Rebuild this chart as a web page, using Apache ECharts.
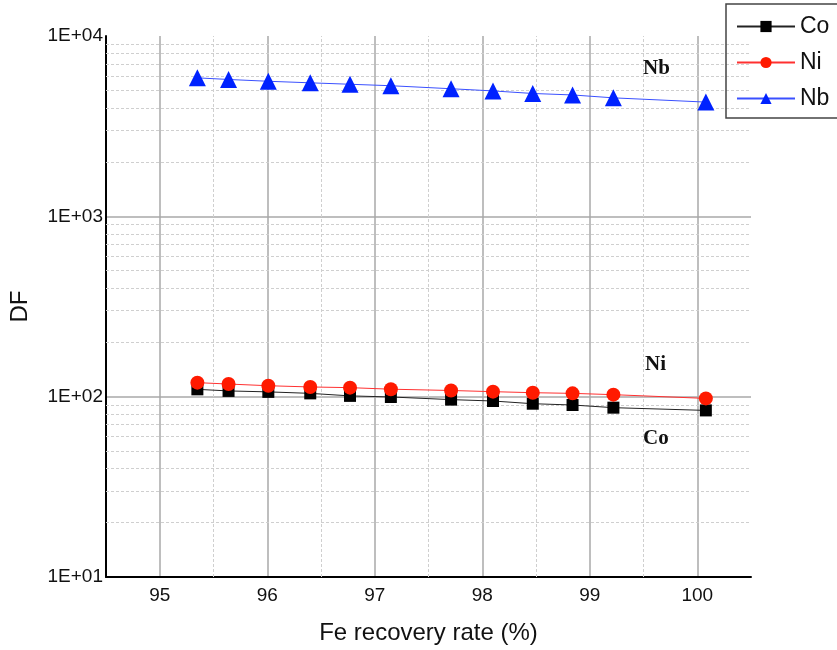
<!DOCTYPE html>
<html><head><meta charset="utf-8">
<script src="https://cdn.jsdelivr.net/npm/echarts@6/dist/echarts.min.js"></script>
<style>html,body{margin:0;padding:0;background:#fff}#c{width:837px;height:650px}</style>
</head><body><div id="c"></div>
<script>
const xValues = [95.35, 95.64, 96.01, 96.40, 96.77, 97.15, 97.71, 98.10, 98.47, 98.84, 99.22, 100.08];
const coValues = [109.8, 107.6, 106.3, 104.3, 101.0, 99.6, 96.3, 94.6, 91.4, 89.9, 86.9, 83.9];
const niValues = [119.6, 117.5, 115.0, 113.2, 112.2, 110.0, 108.2, 106.6, 105.2, 104.3, 102.6, 97.8];
const nbValues = [5860, 5740, 5610, 5500, 5400, 5300, 5100, 4960, 4800, 4710, 4540, 4300];
const minorY = [20,30,40,50,60,70,80,90,200,300,400,500,600,700,800,900,2000,3000,4000,5000,6000,7000,8000,9000];
const halfX = [95.5, 96.5, 97.5, 98.5, 99.5];
const seriesNames = ['Co', 'Ni', 'Nb'];
const labelFont = 'Liberation Sans, Arial, sans-serif';
const noteFont = 'bold 21px "Liberation Serif", "Times New Roman", serif';

const pairs = v => xValues.map((x, i) => [x, v[i]]);
const chart = echarts.init(document.getElementById('c'));
chart.setOption({
  animation: false,
  grid: {left: 105, right: 86, top: 36, bottom: 72},
  legend: {
    orient: 'vertical', left: 726, top: 4,
    data: seriesNames,
    borderColor: '#444', borderWidth: 1.5, borderRadius: 0,
    padding: [11, 40, 8, 10],
    itemWidth: 58, itemHeight: 14, itemGap: 13,
    textStyle: {fontSize: 23, fontFamily: labelFont, color: '#111'}
  },
  xAxis: {
    type: 'value', min: 94.5, max: 100.5, interval: 0.5,
    name: 'Fe recovery rate (%)', nameLocation: 'middle', nameGap: 44,
    nameTextStyle: {fontSize: 24, fontFamily: labelFont, color: '#111'},
    axisLine: {lineStyle: {color: '#000', width: 2}},
    axisTick: {show: false},
    axisLabel: {fontSize: 19, fontFamily: labelFont, color: '#111', margin: 9,
      formatter: v => (Math.abs(v - Math.round(v)) < 1e-6 ? String(Math.round(v)) : '')},
    splitLine: {show: true, lineStyle: {color: ['rgba(0,0,0,0)', '#a8a8a8'], width: 1.5}}
  },
  yAxis: {
    type: 'log', logBase: 10, min: 10, max: 10000,
    name: 'DF', nameLocation: 'middle', nameGap: 74,
    nameTextStyle: {fontSize: 24, fontFamily: labelFont, color: '#111'},
    axisLine: {show: true, lineStyle: {color: '#000', width: 2}},
    axisTick: {show: false},
    axisLabel: {fontSize: 19, fontFamily: labelFont, color: '#111', margin: 3,
      formatter: v => '1E+0' + Math.round(Math.log10(v))},
    splitLine: {show: true, showMaxLine: false, lineStyle: {color: '#a8a8a8', width: 1.5}}
  },
  series: [
    {
      name: 'minor-grid', type: 'line', data: [], silent: true, z: 1,
      markLine: {
        z: 1, silent: true, symbol: 'none', label: {show: false}, animation: false,
        lineStyle: {color: '#cfcfcf', type: [3, 2], width: 1},
        data: minorY.map(v => ({yAxis: v})).concat(halfX.map(v => ({xAxis: v})))
      }
    },
    {
      name: 'Co', type: 'line', data: pairs(coValues),
      symbol: 'rect', symbolSize: 12,
      itemStyle: {color: '#000'}, lineStyle: {color: '#222', width: 1},
      z: 3
    },
    {
      name: 'Ni', type: 'line', data: pairs(niValues),
      symbol: 'circle', symbolSize: 14,
      itemStyle: {color: '#ff1a00'}, lineStyle: {color: '#ff3030', width: 1},
      z: 4
    },
    {
      name: 'Nb', type: 'line', data: pairs(nbValues),
      symbol: 'triangle', symbolSize: 17,
      itemStyle: {color: '#0022ff'}, lineStyle: {color: '#3a50ff', width: 1},
      z: 4
    }
  ],
  graphic: [
    {type: 'text', left: 643, top: 58, z: 10, style: {text: 'Nb', font: noteFont, fill: '#111'}},
    {type: 'text', left: 645, top: 354, z: 10, style: {text: 'Ni', font: noteFont, fill: '#111'}},
    {type: 'text', left: 643, top: 428, z: 10, style: {text: 'Co', font: noteFont, fill: '#111'}}
  ]
});
</script></body></html>
